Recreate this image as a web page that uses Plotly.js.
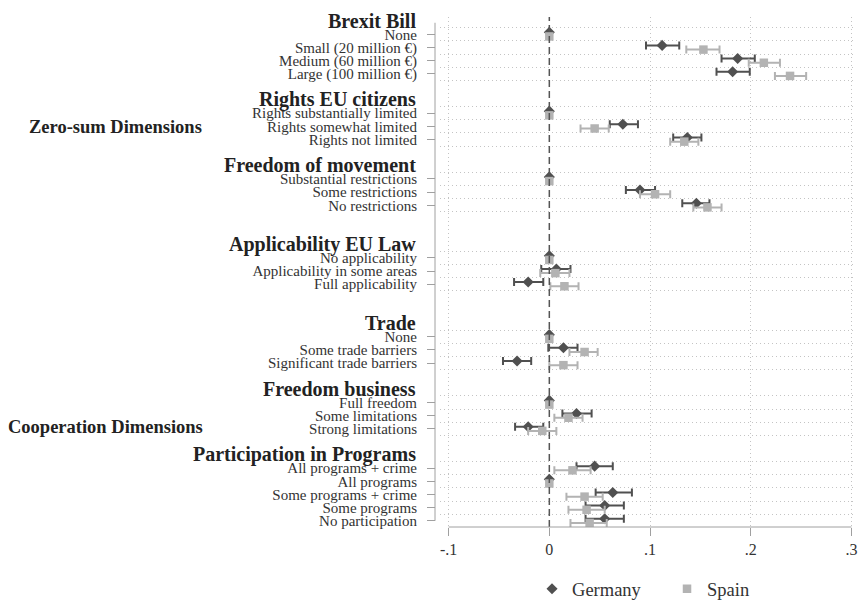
<!DOCTYPE html>
<html><head><meta charset="utf-8">
<script src="https://cdn.plot.ly/plotly-3.0.1.min.js"></script>
<style>body{margin:0;background:#fff}#chart{width:860px;height:602px}</style>
</head><body><div id="chart"></div>
<script>
// ---- data ----
const groupHeaders = ["Brexit Bill","Rights EU citizens","Freedom of movement","Applicability EU Law","Trade","Freedom business","Participation in Programs"];
const brexitItems = ["None","Small (20 million €)","Medium (60 million €)","Large (100 million €)"];
const rightsItems = ["Rights substantially limited","Rights somewhat limited","Rights not limited"];
const movementItems = ["Substantial restrictions","Some restrictions","No restrictions"];
const lawItems = ["No applicability","Applicability in some areas","Full applicability"];
const tradeItems = ["None","Some trade barriers","Significant trade barriers"];
const businessItems = ["Full freedom","Some limitations","Strong limitations"];
const programItems = ["All programs + crime","All programs","Some programs + crime","Some programs","No participation"];
const groupItems = [brexitItems, rightsItems, movementItems, lawItems, tradeItems, businessItems, programItems];
const dimensionLabels = ["Zero-sum Dimensions","Cooperation Dimensions"];

const germanyEst = [0, 0.112, 0.187, 0.182,  0, 0.073, 0.137,  0, 0.090, 0.146,  0, 0.007, -0.021,  0, 0.014, -0.032,  0, 0.027, -0.021,  0.045, 0, 0.063, 0.055, 0.055];
const germanyLo  = [null, 0.096, 0.171, 0.166,  null, 0.060, 0.123,  null, 0.076, 0.132,  null, -0.008, -0.035,  null, -0.001, -0.046,  null, 0.013, -0.034,  0.027, null, 0.046, 0.036, 0.036];
const germanyHi  = [null, 0.129, 0.204, 0.199,  null, 0.088, 0.151,  null, 0.105, 0.159,  null, 0.021, -0.006,  null, 0.028, -0.018,  null, 0.042, -0.006,  0.063, null, 0.082, 0.074, 0.074];

const spainEst = [0, 0.153, 0.213, 0.239,  0, 0.045, 0.134,  0, 0.105, 0.157,  0, 0.006, 0.015,  0, 0.035, 0.014,  0, 0.019, -0.007,  0.023, 0, 0.035, 0.037, 0.040];
const spainLo  = [null, 0.136, 0.198, 0.224,  null, 0.031, 0.120,  null, 0.090, 0.143,  null, -0.009, 0.001,  null, 0.020, 0.000,  null, 0.005, -0.021,  0.005, null, 0.017, 0.019, 0.021];
const spainHi  = [null, 0.169, 0.229, 0.255,  null, 0.059, 0.148,  null, 0.120, 0.171,  null, 0.020, 0.029,  null, 0.048, 0.028,  null, 0.033, 0.007,  0.041, null, 0.053, 0.055, 0.057];

const xTickVals = [-0.1, 0, 0.1, 0.2, 0.3];
const xTickText = ["-.1", "0", ".1", ".2", ".3"];

// ---- layout of rows (spacing only) ----
const gapBefore = [0, 2, 2, 3, 3, 2, 2];
const rows = [], labels = [], headerRows = [], gridRows = [];
let pos = -1;
groupItems.forEach((items, g) => {
  let start = g === 0 ? 0 : pos + 1 + gapBefore[g];
  headerRows.push(start - 1);
  items.forEach((lab, i) => { rows.push(start + i); labels.push(lab); gridRows.push(start + i - 0.5); });
  gridRows.push(start + items.length - 0.5);
  pos = start + items.length - 1;
});

const serif = "Liberation Serif, Times New Roman, serif";
const gCol = "#505050", sCol = "#b3b3b3";
function errPlus(est, hi) { return est.map((v, i) => hi[i] === null ? NaN : hi[i] - v); }
function errMinus(est, lo) { return est.map((v, i) => lo[i] === null ? NaN : v - lo[i]); }

const traces = [
  { name: "Germany", type: "scatter", mode: "markers",
    x: germanyEst, y: rows.map(r => r - 0.16),
    marker: { symbol: "diamond", size: 8.5, color: gCol },
    error_x: { type: "data", symmetric: false, array: errPlus(germanyEst, germanyHi), arrayminus: errMinus(germanyEst, germanyLo), color: gCol, thickness: 2, width: 4 },
    hoverinfo: "x" },
  { name: "Spain", type: "scatter", mode: "markers",
    x: spainEst, y: rows.map(r => r + 0.16),
    marker: { symbol: "square", size: 8.5, color: sCol },
    error_x: { type: "data", symmetric: false, array: errPlus(spainEst, spainHi), arrayminus: errMinus(spainEst, spainLo), color: sCol, thickness: 2, width: 4 },
    hoverinfo: "x" }
];

const annotations = groupHeaders.map((h, i) => ({
  text: "<b>" + h + "</b>", xref: "paper", yref: "y", x: 0, y: headerRows[i] - 0.05,
  xanchor: "right", yanchor: "middle", xshift: -17, showarrow: false,
  font: { family: serif, size: 20, color: "#222" }
}));
annotations.push({ text: "<b>" + dimensionLabels[0] + "</b>", xref: "paper", yref: "y", x: 0, y: 7.05,
  xanchor: "right", yanchor: "middle", xshift: -231, showarrow: false, font: { family: serif, size: 18.5, color: "#222" } });
annotations.push({ text: "<b>" + dimensionLabels[1] + "</b>", xref: "paper", yref: "y", x: 0, y: 29.9,
  xanchor: "right", yanchor: "middle", xshift: -230, showarrow: false, font: { family: serif, size: 18.5, color: "#222" } });

const layout = {
  width: 860, height: 602,
  margin: { l: 435, r: 5, t: 17, b: 75, autoexpand: false },
  paper_bgcolor: "#fff", plot_bgcolor: "#fff",
  showlegend: true,
  legend: { orientation: "h", x: 0.231, xanchor: "left", y: -0.122, yanchor: "middle",
    font: { family: serif, size: 18.5, color: "#333" }, entrywidth: 90, entrywidthmode: "pixels", traceorder: "normal" },
  xaxis: {
    domain: [0.012, 1], range: [-0.1085, 0.3035],
    tickmode: "array", tickvals: xTickVals, ticktext: xTickText,
    ticks: "outside", ticklen: 8, tickcolor: "#a0a0a0", tickwidth: 1,
    tickfont: { family: serif, size: 16, color: "#333" },
    showgrid: false, zeroline: false, showline: false,
    minor: { tickmode: "array", tickvals: [-0.1, 0.1, 0.2, 0.3], showgrid: true, gridcolor: "#c4c4c4", griddash: "1px,3px", gridwidth: 1, ticks: "" }
  },
  yaxis: {
    range: [37.47, -1.32], anchor: "free", position: 0,
    tickmode: "array", tickvals: rows, ticktext: labels,
    ticks: "outside", ticklen: 8, tickcolor: "#a0a0a0", tickwidth: 1, ticklabelstandoff: 7,
    tickfont: { family: serif, size: 15, color: "#333" },
    showgrid: false, zeroline: false, showline: false,
    minor: { tickmode: "array", tickvals: gridRows, showgrid: true, gridcolor: "#c4c4c4", griddash: "1px,3px", gridwidth: 1, ticks: "" }
  },
  shapes: [
    { type: "line", xref: "x", yref: "paper", x0: 0, x1: 0, y0: 0, y1: 1, line: { color: "#555", width: 1.5, dash: "7px,4px" } },
    { type: "line", xref: "x", yref: "paper", x0: -0.1, x1: 0.3, y0: 0, y1: 0, line: { color: "#a0a0a0", width: 1 } },
    { type: "line", xref: "paper", yref: "y", x0: 0, x1: 0, y0: -0.88, y1: 37, line: { color: "#a0a0a0", width: 1 } }
  ],
  annotations: annotations
};

Plotly.newPlot("chart", traces, layout, { displayModeBar: false, staticPlot: true });
</script>
</body></html>
